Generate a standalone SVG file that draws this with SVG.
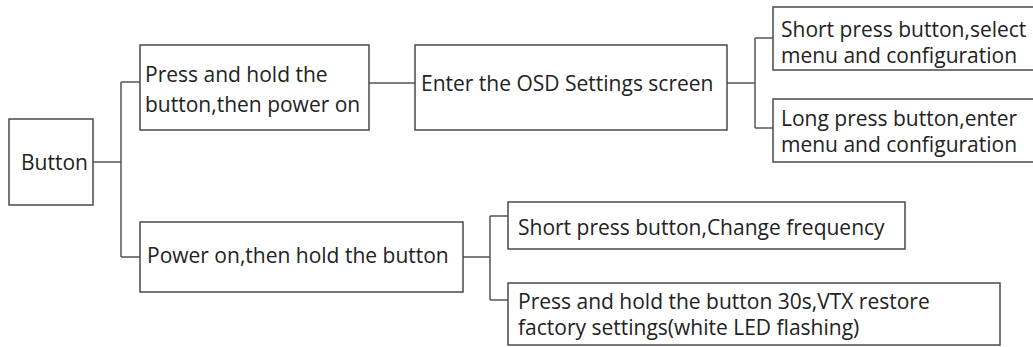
<svg xmlns="http://www.w3.org/2000/svg" width="1033" height="347" viewBox="0 0 1033 347">
  <style>
    .box { fill: #ffffff; stroke: #4a4a4a; stroke-width: 1.5; }
    .link { fill: none; stroke: #555555; stroke-width: 1.5; }
    text { font-family: "Open Sans", "Noto Sans", "Liberation Sans", sans-serif; font-size: 21px; fill: #222222; }
  </style>
  <rect width="1033" height="347" fill="#ffffff"/>

  <g id="connectors">
    <path class="link" d="M93 162 H121 M121 82 V257 M121 82 H140 M121 257 H140"/>
    <path class="link" d="M369 83 H415"/>
    <path class="link" d="M727 83 H755 M755 38 V128 M755 38 H773 M755 128 H773"/>
    <path class="link" d="M463 257 H490 M490 216 V300 M490 216 H508 M490 300 H508"/>
  </g>

  <g id="button">
    <rect class="box" x="9" y="119" width="84" height="86"/>
    <text x="21" y="170">Button</text>
  </g>

  <g id="hold-then-power">
    <rect class="box" x="140" y="45" width="229" height="85"/>
    <text x="145" y="82">Press and hold the</text>
    <text x="145" y="112">button,then power on</text>
  </g>

  <g id="osd-screen">
    <rect class="box" x="415" y="45" width="312" height="85"/>
    <text x="421" y="91">Enter the OSD Settings screen</text>
  </g>

  <g id="short-press-select">
    <rect class="box" x="773" y="7" width="270" height="63"/>
    <text x="781" y="37">Short press button,select</text>
    <text x="781" y="63">menu and configuration</text>
  </g>

  <g id="long-press-enter">
    <rect class="box" x="773" y="99" width="270" height="63"/>
    <text x="781" y="126">Long press button,enter</text>
    <text x="781" y="152">menu and configuration</text>
  </g>

  <g id="power-then-hold">
    <rect class="box" x="140" y="222" width="323" height="70"/>
    <text x="147" y="263">Power on,then hold the button</text>
  </g>

  <g id="short-press-frequency">
    <rect class="box" x="508" y="202" width="397" height="47"/>
    <text x="518" y="235">Short press button,Change frequency</text>
  </g>

  <g id="factory-reset">
    <rect class="box" x="508" y="283" width="492" height="62"/>
    <text x="518" y="309">Press and hold the button 30s,VTX restore</text>
    <text x="518" y="335">factory settings(white LED flashing)</text>
  </g>
</svg>
